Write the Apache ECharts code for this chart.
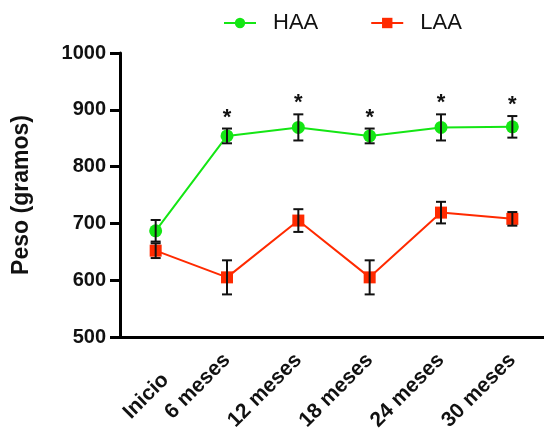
<!DOCTYPE html>
<html>
<head>
<meta charset="utf-8">
<script src="https://cdn.jsdelivr.net/npm/echarts@6/dist/echarts.min.js"></script>
<style>
  html, body { margin: 0; padding: 0; background: #fff; }
  #main { width: 544px; height: 430px; }
</style>
</head>
<body>
<div id="main"></div>
<script>
var myChart = echarts.init(document.getElementById('main'));

// datos
var categorias = ['Inicio', '6 meses', '12 meses', '18 meses', '24 meses', '30 meses'];
var haa = [687, 854, 869, 854, 869, 870];
var haaErr = [19, 13, 23, 13, 23, 19];
var laa = [652, 605, 705, 605, 719, 708];
var laaErr = [13, 30, 20, 30, 19, 12];
var signif = ['', '*', '*', '*', '*', '*'];
var yTicks = [500, 600, 700, 800, 900, 1000];

var verde = '#14e614';
var rojo = '#ff2a00';

// barras de error: [indice, bajo, alto, marca]
function errData(vals, errs, marks) {
    return vals.map(function (v, i) {
        return [i, v - errs[i], v + errs[i], marks ? marks[i] : ''];
    });
}

function renderError(params, api) {
    var x = api.value(0);
    var lo = api.coord([x, api.value(1)]);
    var hi = api.coord([x, api.value(2)]);
    var cap = 5;
    var style = { stroke: '#111', lineWidth: 2 };
    var children = [
        { type: 'line', shape: { x1: lo[0], y1: lo[1], x2: hi[0], y2: hi[1] }, style: style },
        { type: 'line', shape: { x1: lo[0] - cap, y1: lo[1], x2: lo[0] + cap, y2: lo[1] }, style: style },
        { type: 'line', shape: { x1: hi[0] - cap, y1: hi[1], x2: hi[0] + cap, y2: hi[1] }, style: style }
    ];
    var mark = api.value(3);
    if (mark) {
        children.push({
            type: 'text',
            style: {
                text: mark, x: hi[0], y: hi[1],
                align: 'center', verticalAlign: 'bottom',
                fontSize: 22, fontWeight: 'bold', fontFamily: 'Liberation Sans', fill: '#111'
            }
        });
    }
    return { type: 'group', children: children };
}

var option = {
    animation: false,
    textStyle: { fontFamily: 'Liberation Sans' },
    legend: {
        data: ['HAA', 'LAA'],
        top: 7,
        left: 218,
        itemWidth: 32,
        itemHeight: 13,
        itemGap: 52,
        textStyle: { fontSize: 22, color: '#111', padding: [0, 0, 0, 12] }
    },
    grid: { left: 120, right: -4, top: 53, bottom: 93, containLabel: false, outerBoundsMode: 'none' },
    xAxis: {
        type: 'category',
        data: categorias,
        boundaryGap: true,
        axisLine: { lineStyle: { color: '#000', width: 3 } },
        axisTick: { alignWithLabel: true, length: 10, lineStyle: { color: '#000', width: 3 } },
        axisLabel: {
            rotate: 45, margin: 20, interval: 0,
            fontSize: 21, fontWeight: 'bold', color: '#111',
            // "Inicio" queda algo más abajo que las demás
            formatter: function (v, i) { return i === 0 ? '{ini|' + v + '}' : v; },
            rich: {
                ini: { fontSize: 21, fontWeight: 'bold', color: '#111', padding: [42, 7, 0, 0] }
            }
        },
        splitLine: { show: false }
    },
    yAxis: {
        type: 'value',
        min: yTicks[0],
        max: yTicks[yTicks.length - 1],
        interval: 100,
        name: 'Peso (gramos)',
        nameLocation: 'middle',
        nameGap: 87,
        nameTextStyle: { fontSize: 23, fontWeight: 'bold', color: '#111' },
        axisLine: { show: true, lineStyle: { color: '#000', width: 3 } },
        axisTick: { show: true, length: 10, lineStyle: { color: '#000', width: 3 } },
        axisLabel: {
            margin: 14, fontSize: 20, fontWeight: 'bold', color: '#111',
            formatter: function (v) { return String(v); }
        },
        splitLine: { show: false }
    },
    series: [
        {
            name: 'HAA', type: 'line', data: haa,
            symbol: 'circle', symbolSize: 13,
            itemStyle: { color: verde },
            lineStyle: { color: verde, width: 2 },
            z: 3
        },
        {
            name: 'LAA', type: 'line', data: laa,
            symbol: 'rect', symbolSize: 12,
            itemStyle: { color: rojo },
            lineStyle: { color: rojo, width: 2 },
            z: 3
        },
        {
            type: 'custom', renderItem: renderError,
            data: errData(haa, haaErr, signif), z: 5,
            encode: { x: 0, y: [1, 2] }
        },
        {
            type: 'custom', renderItem: renderError,
            data: errData(laa, laaErr), z: 5,
            encode: { x: 0, y: [1, 2] }
        }
    ]
};

myChart.setOption(option);
</script>
</body>
</html>
